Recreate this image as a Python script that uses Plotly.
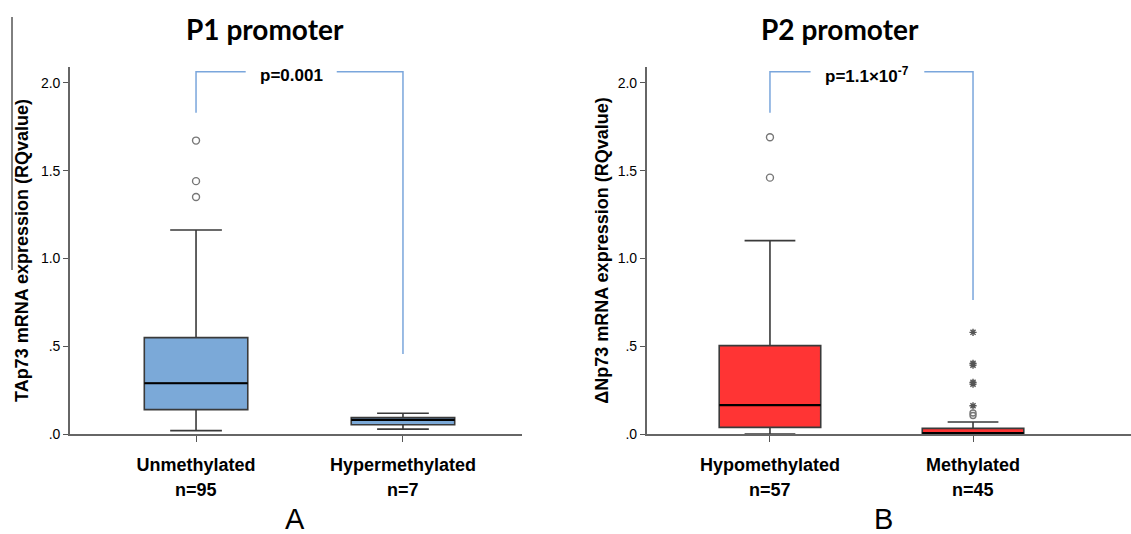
import plotly.graph_objects as go
from plotly.subplots import make_subplots

# Panel A: TAp73 expression by P1 promoter status
p1_groups = ["Unmethylated", "Hypermethylated"]
p1_counts = [95, 7]
p1_q1 = [0.139, 0.053]
p1_median = [0.289, 0.080]
p1_q3 = [0.549, 0.093]
p1_low = [0.019, 0.028]
p1_high = [1.162, 0.118]
p1_out_circle = [1.671, 1.440, 1.350]

# Panel B: dNp73 expression by P2 promoter status
p2_groups = ["Hypomethylated", "Methylated"]
p2_counts = [57, 45]
p2_q1 = [0.038, 0.000]
p2_median = [0.165, 0.005]
p2_q3 = [0.503, 0.032]
p2_low = [0.000, 0.000]
p2_high = [1.101, 0.068]
p2_out_circle_hypo = [1.690, 1.460]
p2_out_circle_meth = [0.120, 0.105]
p2_out_star_meth = [0.579, 0.402, 0.392, 0.294, 0.284, 0.161]

p_labels = ["<b>p=0.001</b>", "<b>p=1.1×10<sup>-7</sup></b>"]
bracket_left_y = [1.829, 1.829]
bracket_top_y = [2.063, 2.063]
bracket_right_y = [0.456, 0.763]

BOX_W = 0.5
LINE = "#3a3a3a"
BRACKET = "#7aa6dc"
FONT = "Liberation Sans, Arial, sans-serif"

W, H = 1131, 534
TOP, BOTTOM = 67, 434  # plot area in pixels


def py(px):
    """Pixel row -> paper y (paper spans the plot area)."""
    return (BOTTOM - px) / (BOTTOM - TOP)


fig = make_subplots(rows=1, cols=2, horizontal_spacing=0.0)


def add_panel(col, fill, q1, med, q3, lo, hi):
    xs = [0, 1]
    fig.add_trace(go.Box(
        x=xs, q1=q1, median=med, q3=q3, lowerfence=lo, upperfence=hi,
        width=BOX_W, whiskerwidth=0.5, fillcolor=fill,
        line=dict(color=LINE, width=1.6), boxpoints=False,
        hoverinfo="skip", showlegend=False), row=1, col=col)
    # darker median bars
    for xi, m in zip(xs, med):
        fig.add_trace(go.Scatter(
            x=[xi - BOX_W / 2, xi + BOX_W / 2], y=[m, m], mode="lines",
            line=dict(color="#000000", width=2.2), hoverinfo="skip",
            showlegend=False), row=1, col=col)


add_panel(1, "#7ba9d8", p1_q1, p1_median, p1_q3, p1_low, p1_high)
add_panel(2, "#ff3434", p2_q1, p2_median, p2_q3, p2_low, p2_high)

circle = dict(symbol="circle-open", size=7, color="#777777", line=dict(width=1.4))
star = dict(symbol="asterisk-open", size=6, color="#555555", line=dict(width=1.4, color="#555555"))

fig.add_trace(go.Scatter(x=[0] * len(p1_out_circle), y=p1_out_circle, mode="markers",
                         marker=circle, showlegend=False, hoverinfo="skip"), row=1, col=1)
fig.add_trace(go.Scatter(x=[0] * len(p2_out_circle_hypo), y=p2_out_circle_hypo, mode="markers",
                         marker=circle, showlegend=False, hoverinfo="skip"), row=1, col=2)
fig.add_trace(go.Scatter(x=[1] * len(p2_out_circle_meth), y=p2_out_circle_meth, mode="markers",
                         marker=dict(circle, size=6), showlegend=False, hoverinfo="skip"), row=1, col=2)
fig.add_trace(go.Scatter(x=[1] * len(p2_out_star_meth), y=p2_out_star_meth, mode="markers",
                         marker=star, showlegend=False, hoverinfo="skip"), row=1, col=2)

# significance brackets with a gap for the p-value text
gaps = [(0.24, 0.68), (0.20, 0.76)]
for i, col in enumerate([1, 2]):
    g0, g1 = gaps[i]
    fig.add_trace(go.Scatter(
        x=[0, 0, g0, None, g1, 1, 1],
        y=[bracket_left_y[i], bracket_top_y[i], bracket_top_y[i], None,
           bracket_top_y[i], bracket_top_y[i], bracket_right_y[i]],
        mode="lines", line=dict(color=BRACKET, width=1.5), hoverinfo="skip",
        showlegend=False, connectgaps=False), row=1, col=col)
    fig.add_annotation(x=(g0 + g1) / 2, y=bracket_top_y[i] - 0.02, text=p_labels[i],
                       showarrow=False, xref=f"x{'' if col == 1 else col}",
                       yref=f"y{'' if col == 1 else col}", xanchor="center",
                       font=dict(family=FONT, size=17, color="#000"), yanchor="middle")

yaxis_common = dict(range=[0, 2.09], tickvals=[0, 0.5, 1.0, 1.5, 2.0],
                    ticktext=[".0", ".5", "1.0", "1.5", "2.0"],
                    ticks="outside", ticklen=5, tickcolor="#555", tickwidth=1.3,
                    showline=True, linecolor="#666", linewidth=1.6,
                    showgrid=False, zeroline=False,
                    tickfont=dict(family=FONT, size=14, color="#000"))
fig.update_yaxes(yaxis_common)
fig.update_yaxes(title=dict(text="<b>TAp73 mRNA expression (RQvalue)</b>",
                            font=dict(family=FONT, size=18, color="#000"), standoff=8),
                 row=1, col=1)
fig.update_yaxes(title=dict(text="<b>ΔNp73 mRNA expression (RQvalue)</b>",
                            font=dict(family=FONT, size=18, color="#000"), standoff=4),
                 row=1, col=2)

xaxis_common = dict(tickvals=[0, 1], ticks="outside", ticklen=6, tickcolor="#555",
                    tickwidth=1.3, showline=True, linecolor="#666", linewidth=1.6,
                    showgrid=False, zeroline=False, ticklabelstandoff=8,
                    tickfont=dict(family=FONT, size=18, color="#000"))
fig.update_xaxes(xaxis_common)
fig.update_xaxes(range=[-0.609, 1.575], domain=[0.0619, 0.4615],
                 ticktext=[f"<b>{g}</b>" for g in p1_groups], row=1, col=1)
fig.update_xaxes(range=[-0.607, 1.778], domain=[0.5718, 1.0],
                 ticktext=[f"<b>{g}</b>" for g in p2_groups], row=1, col=2)

# n= labels under each category
for col, counts in [(1, p1_counts), (2, p2_counts)]:
    for xi, n in enumerate(counts):
        fig.add_annotation(x=xi, y=py(490), xref=f"x{'' if col == 1 else col}", yref="paper",
                           text=f"<b>n={n}</b>", showarrow=False, yanchor="middle",
                           xanchor="center",
                           font=dict(family=FONT, size=18, color="#000"))

# panel titles and letters
for cx, text in [(265, "<b>P1 promoter</b>"), (840, "<b>P2 promoter</b>")]:
    fig.add_annotation(x=cx / W, y=py(29), xref="paper", yref="paper",
                       xanchor="center", yanchor="middle", showarrow=False, text=text,
                       font=dict(family="Lato, sans-serif", size=28, color="#000"))
for cx, text in [(295, "A"), (883, "B")]:
    fig.add_annotation(x=cx / W, y=py(519), xref="paper", yref="paper",
                       xanchor="center", yanchor="middle", showarrow=False, text=text,
                       font=dict(family=FONT, size=29, color="#000"))

# thin rule at the far left edge
fig.add_shape(type="line", xref="paper", yref="paper", x0=12 / W, x1=12 / W,
              y0=py(17), y1=py(270), line=dict(color="#000", width=1))

fig.update_layout(width=W, height=H, margin=dict(l=0, r=0, t=TOP, b=H - BOTTOM),
                  plot_bgcolor="white", paper_bgcolor="white")

fig.write_html("out.html")
